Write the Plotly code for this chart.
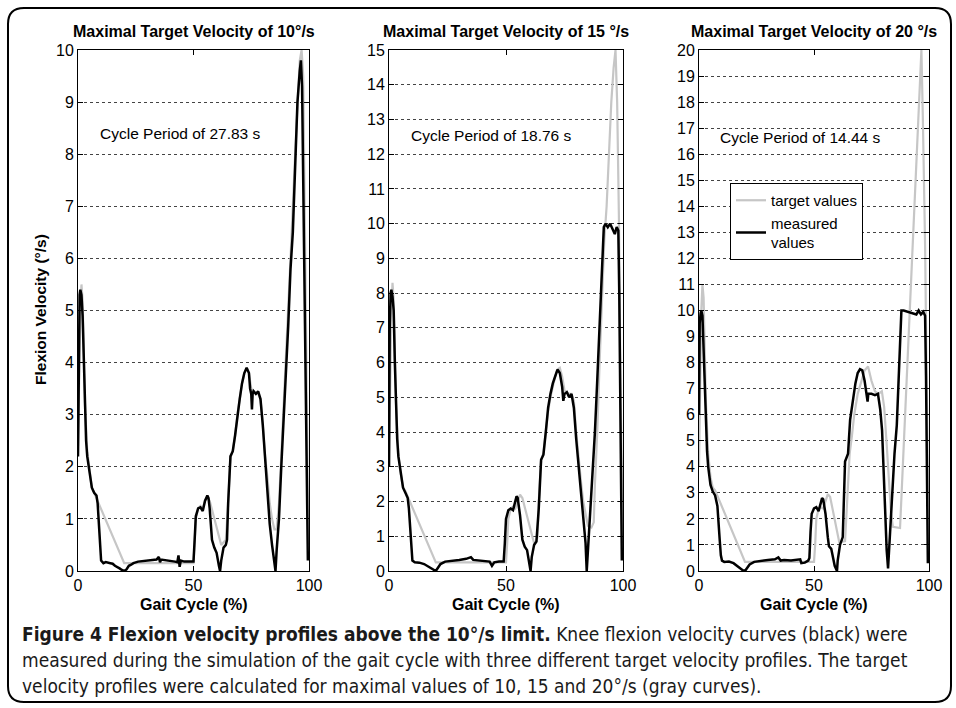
import plotly.graph_objects as go

# ---------------- data ----------------
# Panel 1: maximal target velocity 10 deg/s
t10_x = [0, 0.5, 1, 1.5, 2, 2.5, 3, 4, 5, 6, 7, 20, 50, 50.5, 51, 52, 53, 54, 55, 56, 57, 62, 63, 64, 65, 66, 67, 68,
         69, 70, 71, 72, 73, 74, 75, 76, 77, 78, 79, 80, 81, 82, 83, 84, 85, 86, 87, 88, 90, 92, 94, 95, 96, 96.8,
         97.5, 98, 98.5, 99, 99.5, 100]
t10_y = [2.4, 4.0, 5.0, 5.5, 5.2, 4.2, 3.2, 2.3, 1.9, 1.6, 1.5, 0.15, 0.15, 0.5, 1.0, 1.2, 1.25, 1.2, 1.35, 1.4, 1.35,
         0.5, 0.55, 0.6, 1.3, 2.2, 2.3, 2.6, 3.0, 3.3, 3.6, 3.8, 3.88, 3.8, 3.5, 3.45, 3.4, 3.4, 3.3, 2.8, 2.2, 1.8,
         1.3, 1.0, 0.8, 0.8, 1.3, 2.2, 4.0, 6.0, 8.0, 9.0, 9.8, 10.0, 9.5, 7.5, 5.0, 3.0, 1.5, 0.5]
m10_x = [0, 0.3, 0.7, 1, 1.5, 2, 2.5, 3, 3.5, 4, 5, 6, 7, 8, 8.5, 9, 9.5, 10, 11, 12, 14, 15, 16, 17, 18, 19, 20, 21,
         22, 23, 24, 26, 28, 30, 32, 34, 35, 35.5, 36, 38, 40, 42, 43, 43.5, 44, 44.5, 46, 48, 50, 50.5, 51, 52, 53,
         54, 55, 56, 56.5, 57, 57.5, 58, 59, 60, 61, 61.5, 62, 63, 64, 64.5, 65, 66, 66.5, 67, 68, 69, 70, 71, 72,
         73, 74, 74.5, 75, 75.3, 75.6, 76, 77, 78, 79, 80, 81, 82, 83, 84, 85, 85.5, 86, 87, 88, 89, 90, 91, 92, 93,
         94, 95, 96, 96.5, 97, 97.5, 97.9, 98.3, 98.8, 99.2, 99.5]
m10_y = [2.2, 4.5, 5.3, 5.4, 5.3, 4.9, 3.9, 3.0, 2.5, 2.2, 1.9, 1.6, 1.5, 1.45, 1.3, 0.9, 0.5, 0.2, 0.15, 0.17, 0.15,
         0.14, 0.1, 0.08, 0.05, 0.02, 0.0, 0.03, 0.1, 0.12, 0.15, 0.18, 0.19, 0.2, 0.21, 0.22, 0.27, 0.17, 0.22,
         0.21, 0.19, 0.18, 0.17, 0.3, 0.08, 0.2, 0.18, 0.18, 0.18, 0.6, 1.05, 1.2, 1.22, 1.15, 1.35, 1.45, 1.4, 1.2,
         0.8, 0.6, 0.45, 0.35, 0.1, 0.0, 0.2, 0.45, 0.5, 0.6, 1.3, 2.2, 2.25, 2.3, 2.6, 3.0, 3.3, 3.6, 3.8, 3.9,
         3.8, 3.5, 3.4, 3.1, 3.4, 3.45, 3.4, 3.45, 3.3, 2.8, 2.1, 1.5, 0.9, 0.5, 0.1, 0.0, 0.4, 1.0, 2.0, 2.8, 3.8,
         4.7, 5.8, 6.5, 7.7, 9.0, 9.6, 9.8, 9.3, 7.5, 5.5, 4.0, 2.8, 1.0, 0.2]

# Panel 2: maximal target velocity 15 deg/s
t15_x = [0, 0.5, 1, 1.5, 2, 2.5, 3, 4, 5, 6, 7, 20, 50, 50.5, 51, 52, 53, 54, 55, 56, 57, 62, 63, 63.5, 64, 65, 66,
         67, 68, 69, 70, 71, 72, 73, 74, 75, 76, 77, 78, 79, 80, 81, 82, 83, 84, 85, 86.5, 87.5, 88, 89, 90, 91, 92,
         93, 94, 95, 96, 96.8, 97.5, 98.3, 99, 99.5, 100]
t15_y = [3.0, 5.5, 7.5, 8.3, 7.8, 6.3, 4.8, 3.4, 2.8, 2.4, 2.3, 0.25, 0.25, 0.8, 1.5, 1.8, 1.85, 1.8, 2.0, 2.2, 2.1,
         0.8, 0.85, 1.0, 2.0, 3.2, 3.4, 4.0, 4.6, 5.0, 5.3, 5.6, 5.8, 5.85, 5.6, 5.2, 5.15, 5.1, 5.1, 4.9, 4.0, 3.2,
         2.6, 2.0, 1.6, 1.3, 1.25, 1.4, 2.5, 4.0, 6.0, 8.0, 9.5, 10.5, 12.0, 13.5, 14.5, 15.0, 13.5, 10.0, 5.0, 2.5,
         0.8]
m15_x = [0, 0.3, 0.7, 1, 1.5, 2, 2.5, 3, 3.5, 4, 5, 6, 7, 8, 8.5, 9, 9.5, 10, 11, 13, 15, 17, 19, 20, 21, 22, 24, 26,
         28, 30, 33, 35, 36, 38, 40, 42, 43, 44, 45, 47, 49, 49.5, 50, 51, 52, 53, 54, 54.5, 55, 56, 57, 58, 59, 60,
         60.5, 61, 62, 63, 64, 65, 66, 67, 68, 69, 70, 71, 72, 73, 74, 74.5, 75, 76, 77, 78, 79, 80, 81, 82, 83, 84,
         84.5, 85, 86, 87, 88, 89, 90, 91, 91.8, 92.5, 93.5, 94.5, 95.5, 96.5, 97.3, 98, 98.4, 98.8, 99.2, 99.5]
m15_y = [3.0, 7.0, 8.0, 8.1, 7.9, 7.5, 6.0, 4.6, 3.8, 3.3, 2.8, 2.4, 2.25, 2.1, 1.8, 1.2, 0.6, 0.3, 0.25, 0.24, 0.2,
         0.12, 0.03, 0.0, 0.1, 0.2, 0.27, 0.28, 0.3, 0.32, 0.35, 0.4, 0.32, 0.3, 0.3, 0.28, 0.27, 0.15, 0.25, 0.27,
         0.27, 0.8, 1.5, 1.75, 1.8, 1.75, 2.0, 2.15, 2.1, 1.6, 0.9, 0.7, 0.6, 0.2, 0.0, 0.4, 0.75, 0.85, 1.8, 3.2,
         3.35, 4.0, 4.7, 5.1, 5.4, 5.6, 5.8, 5.7, 5.3, 4.9, 5.1, 5.15, 5.0, 5.1, 4.7, 3.8, 3.0, 2.2, 1.5, 0.8, 0.0,
         0.6, 1.5, 2.7, 4.0, 5.5, 7.0, 8.5, 9.9, 10.0, 9.9, 10.0, 9.85, 9.7, 9.9, 9.8, 8.0, 5.0, 2.0, 0.3]

# Panel 3: maximal target velocity 20 deg/s
t20_x = [0, 0.5, 1, 1.5, 2, 2.5, 3, 4, 5, 6, 7, 20, 50, 50.5, 51, 52, 53, 54, 55, 56, 57, 61, 63.5, 64.5, 65.5, 66.5,
         67.5, 69, 70.5, 72, 73.5, 75, 76.5, 78, 79.5, 80.5, 81.5, 82.5, 83.5, 84.3, 87.4, 88, 89.5, 91, 92, 93, 94,
         95, 96, 96.7, 97.3, 98.3, 99, 99.5, 100]
t20_y = [4.0, 7.5, 10.0, 11.0, 10.5, 8.5, 6.5, 4.5, 3.6, 3.2, 3.1, 0.35, 0.35, 1.0, 2.0, 2.4, 2.45, 2.4, 2.7, 2.95,
         2.85, 1.1, 1.15, 3.0, 4.5, 5.2, 6.0, 6.8, 7.3, 7.7, 7.85, 7.3, 6.9, 6.8, 6.9, 6.3, 5.0, 3.5, 2.2, 1.7, 1.65,
         2.8, 5.8, 8.8, 10.8, 12.7, 14.8, 17.0, 19.0, 20.0, 17.5, 12.5, 7.0, 3.0, 1.0]
m20_x = [0, 0.3, 0.7, 1, 1.5, 2, 2.5, 3, 3.5, 4, 5, 6, 7, 8, 8.5, 9, 9.5, 10, 11, 13, 15, 17, 19, 20, 21, 22, 24, 26,
         28, 30, 33, 34.5, 35.5, 37, 40, 42, 44, 44.5, 46, 47.5, 48, 48.5, 49, 50, 51, 52, 53, 53.5, 54, 55, 56, 56.5,
         57.5, 58, 59, 60, 60.3, 61.3, 62.5, 63.5, 64.8, 65.7, 67, 68, 69, 70, 71, 72, 73.3, 73.6, 75, 76.5, 77.8,
         78.8, 79.6, 80.3, 81, 81.6, 82.2, 83, 84, 85, 86, 87, 88, 89, 91, 93, 94.5, 95.5, 96.5, 97.5, 98.3, 98.7,
         99.1, 99.5]
m20_y = [6.0, 9.5, 9.9, 10.0, 9.8, 8.6, 7.0, 5.6, 4.6, 4.0, 3.3, 3.05, 2.9, 2.5, 2.0, 1.2, 0.6, 0.4, 0.35, 0.36, 0.3,
         0.15, 0.03, 0.0, 0.15, 0.25, 0.35, 0.38, 0.4, 0.42, 0.45, 0.52, 0.4, 0.42, 0.4, 0.42, 0.45, 0.3, 0.32, 0.4,
         0.5, 1.5, 2.2, 2.4, 2.45, 2.3, 2.7, 2.8, 2.75, 2.2, 1.3, 0.95, 0.85, 0.6, 0.2, 0.0, 0.4, 1.0, 1.3, 4.2, 4.5,
         5.8, 6.6, 7.2, 7.6, 7.75, 7.7, 7.3, 6.5, 6.8, 6.8, 6.75, 6.8, 6.2, 5.4, 3.5, 1.7, 0.8, 0.1, 1.5, 3.0, 4.5,
         5.6, 7.5, 10.0, 10.0, 9.95, 9.9, 9.85, 10.0, 9.85, 9.95, 9.8, 7.5, 3.0, 0.3]

titles = ["Maximal Target Velocity of 10°/s", "Maximal Target Velocity of 15 °/s",
          "Maximal Target Velocity of 20 °/s"]
period_labels = ["Cycle Period of 27.83 s", "Cycle Period of 18.76 s", "Cycle Period of 14.44 s"]
period_pos = [(8.7, 8.4), (8.5, 12.55), (8.3, 16.65)]
y_max = [10, 15, 20]
x_ticks = [0, 50, 100]
legend_names = ["target values", "measured<br>values"]
x_label = "Gait Cycle (%)"
y_label = "Flexion Velocity (°/s)"
caption_bold = "Figure 4 Flexion velocity profiles above the 10°/s limit."
caption_lines = [
    " Knee flexion velocity curves (black) were",
    "measured during the simulation of the gait cycle with three different target velocity profiles. The target",
    "velocity profiles were calculated for maximal values of 10, 15 and 20°/s (gray curves).",
]

targets = [(t10_x, t10_y), (t15_x, t15_y), (t20_x, t20_y)]
measured = [(m10_x, m10_y), (m15_x, m15_y), (m20_x, m20_y)]

# ---------------- layout helpers ----------------
W, H = 956, 708
ML, MR, MT, MB = 78, 27, 50, 137
PW = W - ML - MR
PH = H - MT - MB


def px(xp):
    return (xp - ML) / PW


def py(yp):
    return (H - MB - yp) / PH


domains = [(px(78), px(309)), (px(389), px(623)), (px(699), px(929))]

FONT = "Liberation Sans"
GRAY = "#c6c6c6"

fig = go.Figure()
annotations = []

for i in range(3):
    sfx = "" if i == 0 else str(i + 1)
    xa, ya = "x" + sfx, "y" + sfx
    tx, ty = targets[i]
    mx, my = measured[i]
    fig.add_trace(go.Scatter(x=tx, y=ty, mode="lines", line=dict(color=GRAY, width=2.2),
                             name=legend_names[0], showlegend=(i == 2), xaxis=xa, yaxis=ya))
    fig.add_trace(go.Scatter(x=mx, y=my, mode="lines", line=dict(color="black", width=2.5),
                             name=legend_names[1], showlegend=(i == 2), xaxis=xa, yaxis=ya))
    axis_common = dict(showline=True, linecolor="black", linewidth=1, mirror="ticks", ticks="inside",
                       ticklen=5, tickcolor="black", zeroline=False,
                       tickfont=dict(family=FONT, size=16, color="black"))
    fig.layout["xaxis" + sfx] = dict(domain=domains[i], range=[0, 100], tickvals=x_ticks, showgrid=False,
                                     anchor=ya, **axis_common)
    fig.layout["yaxis" + sfx] = dict(domain=[0, 1], range=[0, y_max[i]], dtick=1, showgrid=True,
                                     gridcolor="#444444", griddash="dot", gridwidth=1, anchor=xa,
                                     **axis_common)
    cx = (domains[i][0] + domains[i][1]) / 2
    annotations.append(dict(text="<b>" + titles[i] + "</b>", x=cx, y=py(32), xref="paper", yref="paper",
                            xanchor="center", yanchor="middle", showarrow=False,
                            font=dict(family=FONT, size=16, color="black")))
    annotations.append(dict(text="<b>" + x_label + "</b>", x=cx, y=py(604), xref="paper", yref="paper",
                            xanchor="center", yanchor="middle", showarrow=False,
                            font=dict(family=FONT, size=16, color="black")))
    annotations.append(dict(text=period_labels[i], x=period_pos[i][0], y=period_pos[i][1], xref=xa, yref=ya,
                            xanchor="left", yanchor="middle", showarrow=False,
                            font=dict(family=FONT, size=15.5, color="black")))

annotations.append(dict(text="<b>" + y_label + "</b>", x=px(40), y=py(310), xref="paper", yref="paper",
                        xanchor="center", yanchor="middle", textangle=-90, showarrow=False,
                        font=dict(family=FONT, size=15.5, color="black")))

CAP_FONT = "DejaVu Sans Condensed"
cap_y = [634, 660, 686]
for k, line in enumerate(caption_lines):
    txt = ("<b>" + caption_bold + "</b>" + line) if k == 0 else line
    annotations.append(dict(text=txt, x=px(20), y=py(cap_y[k]), xref="paper", yref="paper", xanchor="left",
                            yanchor="middle", showarrow=False, align="left",
                            font=dict(family=CAP_FONT, size=19, color="#1a1a1a")))

# rounded frame around the figure
L_, R_, T_, B_, r = 8, 951, 8, 702, 16
pts = [("M", L_ + r, T_), ("L", R_ - r, T_), ("Q", R_, T_, R_, T_ + r), ("L", R_, B_ - r),
       ("Q", R_, B_, R_ - r, B_), ("L", L_ + r, B_), ("Q", L_, B_, L_, B_ - r), ("L", L_, T_ + r),
       ("Q", L_, T_, L_ + r, T_)]
path = ""
for p in pts:
    cmd = p[0]
    coords = p[1:]
    seg = []
    for j in range(0, len(coords), 2):
        seg.append(f"{px(coords[j]):.5f},{py(coords[j + 1]):.5f}")
    path += cmd + " " + " ".join(seg) + " "
path += "Z"

fig.update_layout(
    width=W, height=H,
    margin=dict(l=ML, r=MR, t=MT, b=MB),
    paper_bgcolor="white", plot_bgcolor="white",
    font=dict(family=FONT, color="black"),
    annotations=annotations,
    shapes=[dict(type="path", path=path, xref="paper", yref="paper",
                 line=dict(color="black", width=2), layer="above")],
    legend=dict(x=px(730), y=py(183), xanchor="left", yanchor="top", bgcolor="white",
                bordercolor="black", borderwidth=1, font=dict(family=FONT, size=15, color="black"),
                tracegroupgap=0, itemwidth=30),
)

fig.write_html("out.html")
